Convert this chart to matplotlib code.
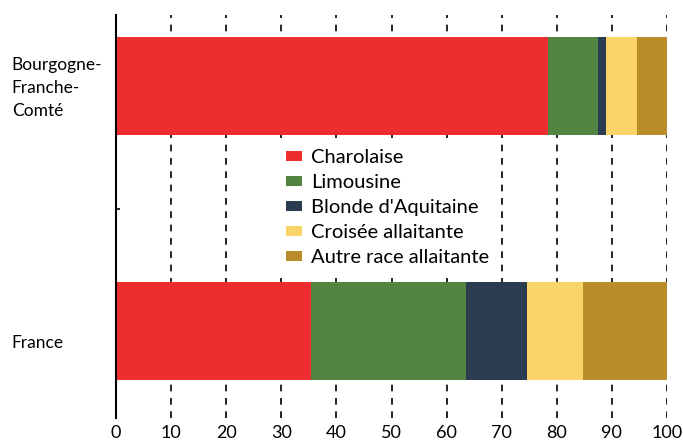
import matplotlib.pyplot as plt
from matplotlib.ticker import FixedLocator
from matplotlib.transforms import ScaledTranslation

# donnees (parts en %)
regions = ['Bourgogne-\nFranche-\nComté', 'France']
races = ['Charolaise', 'Limousine', "Blonde d'Aquitaine", 'Croisée allaitante', 'Autre race allaitante']
charolaise = [78.4, 35.4]
limousine = [9.1, 28.1]
blonde = [1.4, 11.1]
croisee = [5.6, 10.2]
autre = [5.5, 15.2]
couleurs = ['#EE2E2E', '#538441', '#2C3C50', '#FAD468', '#B98D2A']

plt.rcParams['font.family'] = ['Lato', 'DejaVu Sans']

fig = plt.figure(figsize=(6.83, 4.42), dpi=100)
ax = fig.add_axes([116/683, 1-418/442, 551/683, 403/442])

series = [charolaise, limousine, blonde, croisee, autre]
pos = list(range(len(regions)))
gauche = [0.0] * len(regions)
for nom, vals, c in zip(races, series, couleurs):
    ax.barh(pos, vals, left=gauche, height=0.4, color=c, label=nom, zorder=2)
    gauche = [g + v for g, v in zip(gauche, vals)]

ax.set_xlim(0, 100)
ax.set_ylim(1.356, -0.292)
ax.set_xticks(range(0, 101, 10))
ax.tick_params(axis='x', length=0, pad=5, labelsize=13)
ax.xaxis.grid(True, color='black', linewidth=1.2, linestyle=(0, (4, 4)), zorder=0)

ax.set_yticks(pos)
ax.set_yticklabels(regions, fontsize=12.5, ha='left', linespacing=1.55)
ax.tick_params(axis='y', which='major', length=0, pad=75)
ax.yaxis.set_minor_locator(FixedLocator([0.5]))
ax.tick_params(axis='y', which='minor', direction='in', length=3, width=1.2)

# petits decalages verticaux des etiquettes comme dans l'original
decalages = [3.5, -11]
for lab, d in zip(ax.get_yticklabels(), decalages):
    lab.set_transform(lab.get_transform() + ScaledTranslation(0, d / 100, fig.dpi_scale_trans))

for s in ['top', 'right', 'bottom']:
    ax.spines[s].set_visible(False)
ax.spines['left'].set_linewidth(1.5)
ax.spines['left'].set_zorder(3)

leg = ax.legend(loc='upper left', bbox_to_anchor=(0.2886, 0.695), frameon=True, fontsize=14.5,
                handlelength=0.8, handleheight=0.4, handletextpad=0.45, labelspacing=0.40,
                borderaxespad=0, borderpad=0.55, fancybox=False)
leg.get_frame().set_facecolor('white')
leg.get_frame().set_edgecolor('none')
leg.get_frame().set_alpha(1)
leg.set_zorder(4)

fig.savefig('out.png', dpi=100)
